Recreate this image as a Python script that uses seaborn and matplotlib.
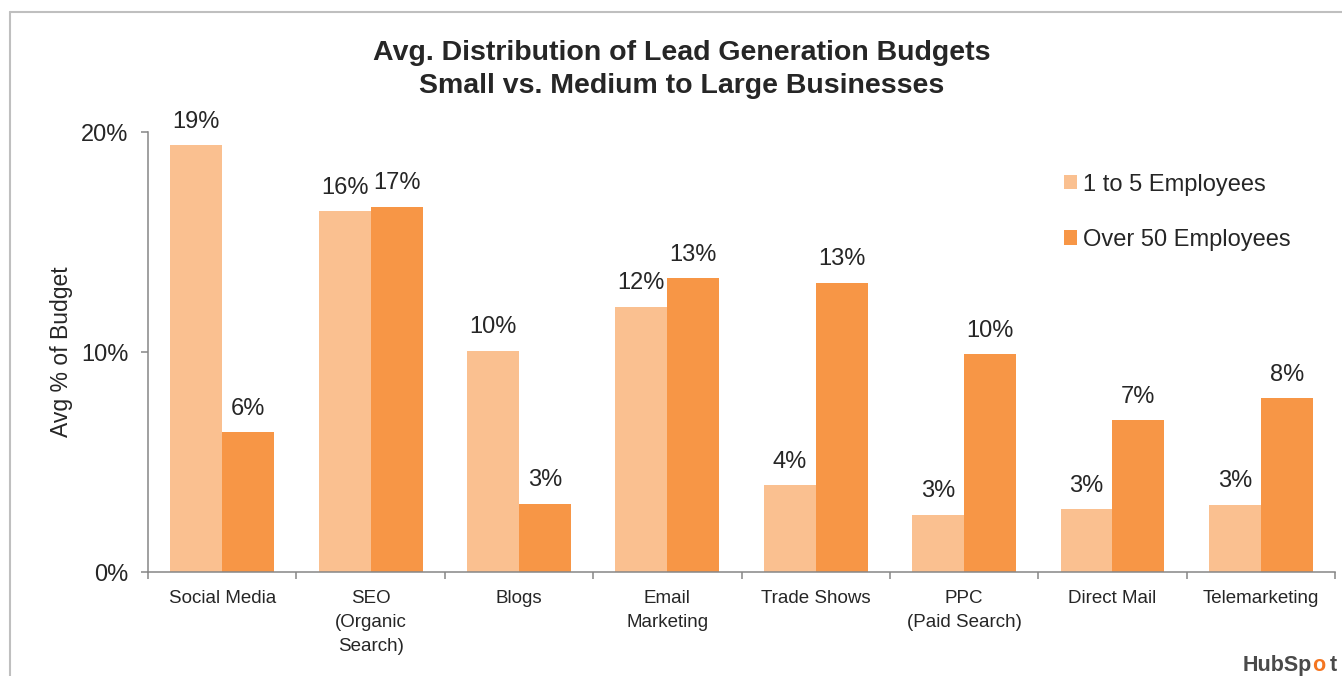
import pandas as pd
import matplotlib.pyplot as plt
import seaborn as sns
from matplotlib.lines import Line2D
from matplotlib.patches import Patch
from matplotlib.ticker import FixedLocator

categories = ["Social Media", "SEO\n(Organic\nSearch)", "Blogs", "Email\nMarketing",
              "Trade Shows", "PPC\n(Paid Search)", "Direct Mail", "Telemarketing"]
small_biz = [19.4, 16.4, 10.05, 12.05, 3.95, 2.6, 2.85, 3.05]
large_biz = [6.35, 16.6, 3.1, 13.35, 13.15, 9.9, 6.9, 7.9]
series = ["1 to 5 Employees", "Over 50 Employees"]
colors = ["#FAC090", "#F79646"]
y_ticks = [0, 10, 20]

df = pd.DataFrame({
    "Category": categories * 2,
    "Value": small_biz + large_biz,
    "Group": [series[0]] * len(categories) + [series[1]] * len(categories),
})

sns.set_style("white")
plt.rcParams["font.family"] = ["Liberation Sans", "DejaVu Sans"]

fig = plt.figure(figsize=(13.42, 6.76), dpi=100)
ax = fig.add_axes([0.1103, 0.1538, 0.8845, 0.6509])

sns.barplot(data=df, x="Category", y="Value", hue="Group", palette=colors,
            width=0.7, gap=0, saturation=1, linewidth=0, ax=ax, legend=False)

for cont, vals in zip(ax.containers, [small_biz, large_biz]):
    ax.bar_label(cont, labels=[f"{v:.0f}%" for v in vals], padding=9, fontsize=17)

ax.set_ylim(0, 20)
ax.set_xlim(-0.5, len(categories) - 0.5)
ax.set_yticks(y_ticks)
ax.set_yticklabels([f"{t}%" for t in y_ticks], fontsize=17)
ax.tick_params(axis="y", length=5, width=1.1, color="#868686", pad=9, left=True)
ax.tick_params(axis="x", which="major", length=0, pad=13, labelsize=13.5)
ax.xaxis.set_minor_locator(FixedLocator([i - 0.5 for i in range(len(categories) + 1)]))
ax.tick_params(axis="x", which="minor", length=5, width=1.1, color="#868686", bottom=True)
for lab in ax.get_xticklabels():
    lab.set_linespacing(1.55)

ax.set_xlabel("")
ax.set_ylabel("Avg % of Budget", fontsize=16.5)
ax.yaxis.set_label_coords(-0.063, 0.5)

for side in ["top", "right"]:
    ax.spines[side].set_visible(False)
for side in ["left", "bottom"]:
    ax.spines[side].set_color("#868686")
    ax.spines[side].set_linewidth(1.1)

handles = [Patch(facecolor=c, edgecolor="none") for c in colors]
fig.legend(handles, series, loc="upper left", bbox_to_anchor=(0.793, 0.743),
           frameon=False, fontsize=17, handlelength=0.55, handleheight=0.55,
           handletextpad=0.25, labelspacing=1.4, borderpad=0, borderaxespad=0)

fig.text(0.508, 0.922, "Avg. Distribution of Lead Generation Budgets",
         ha="center", va="center", fontsize=20.5, fontweight="bold")
fig.text(0.508, 0.873, "Small vs. Medium to Large Businesses",
         ha="center", va="center", fontsize=20.5, fontweight="bold")

# slide frame and logo
fig.add_artist(Line2D([10 / 1342, 1], [1 - 12 / 676] * 2, transform=fig.transFigure,
                      color="#BFBFBF", linewidth=1.5))
fig.add_artist(Line2D([10 / 1342] * 2, [0, 1 - 12 / 676], transform=fig.transFigure,
                      color="#BFBFBF", linewidth=1.5))
fig.text(0.926, 0.015, "HubSp", ha="left", va="center", fontsize=15.5,
         fontweight="bold", color="#4A4A4A")
fig.text(0.9775, 0.015, "o", ha="left", va="center", fontsize=15.5,
         fontweight="bold", color="#F47622")
fig.text(0.9905, 0.015, "t", ha="left", va="center", fontsize=15.5,
         fontweight="bold", color="#4A4A4A")

fig.savefig("out.png", dpi=100)
